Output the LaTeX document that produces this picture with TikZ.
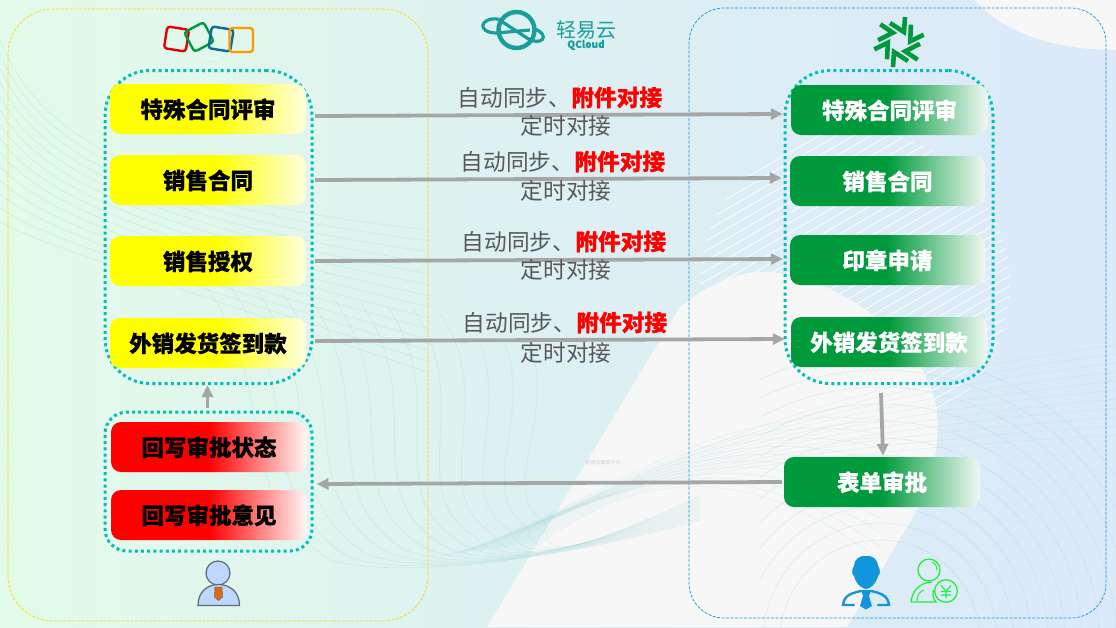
\documentclass[tikz,border=0pt]{standalone}
\usepackage{fontspec}
\setmainfont{Noto Sans CJK SC}[BoldFeatures={FakeBold=0.5}]
\usetikzlibrary{arrows.meta,calc}
\definecolor{bgL}{HTML}{E3FBE9}
\definecolor{bgM}{HTML}{DDF0F2}
\definecolor{bgR}{HTML}{DBE9FA}
\definecolor{blobc}{HTML}{F7F7F7}
\definecolor{wavec}{HTML}{9AD6D6}
\definecolor{teald}{HTML}{00BFB8}
\definecolor{arrc}{HTML}{A6A6A6}
\definecolor{gtext}{HTML}{595959}
\definecolor{greenb}{HTML}{009A3D}
\definecolor{greenE}{HTML}{F0F8F2}
\definecolor{qc}{HTML}{199E9C}
\definecolor{pblue}{HTML}{BDD7FF}
\definecolor{pedge}{HTML}{5A6B75}
\definecolor{ptie}{HTML}{E8650A}
\definecolor{iconb}{HTML}{1296DB}
\definecolor{icong}{HTML}{22F03A}
\pgfdeclarehorizontalshading{bgshade}{100bp}{color(0bp)=(bgL); color(25bp)=(bgL); color(50bp)=(bgM); color(75bp)=(bgR); color(100bp)=(bgR)}
\pgfdeclarehorizontalshading{yshade}{100bp}{color(0bp)=(yellow); color(52bp)=(yellow); color(75bp)=(yellow!12!white); color(100bp)=(yellow!12!white)}
\pgfdeclarehorizontalshading{rshade}{100bp}{color(0bp)=(red); color(50bp)=(red); color(75bp)=(red!3!white); color(100bp)=(red!3!white)}
\pgfdeclarehorizontalshading{gshade}{100bp}{color(0bp)=(greenb); color(50bp)=(greenb); color(75bp)=(greenE); color(100bp)=(greenE)}
\tikzset{
  boxbase/.style={rectangle,rounded corners=10pt,minimum height=50pt,inner sep=0pt,text height=20pt,text depth=2pt,font=\fontsize{22.5pt}{24pt}\selectfont\bfseries},
  ybox/.style={boxbase,shade,shading=yshade,text=black,minimum width=196pt},
  rbox/.style={boxbase,shade,shading=rshade,text=black,minimum width=196pt},
  gbox/.style={boxbase,shade,shading=gshade,text=white,minimum width=196pt},
  group/.style={rectangle,draw=teald,line width=3pt,dash pattern=on 3pt off 3.2pt,inner sep=0pt},
  panel/.style={rectangle,line width=.7pt,inner sep=0pt,dash pattern=on 3pt off 1.5pt},
  flow/.style={draw=arrc,line width=3.8pt,-{Triangle[length=12pt,width=11pt]}},
  syncl/.style={inner sep=0pt,text=gtext,font=\fontsize{22.7pt}{24pt}\selectfont},
  wave/.style={draw=wavec,line width=.5pt,opacity=.35},
  waveb/.style={draw=wavec,line width=.5pt,opacity=.25},
  hatchl/.style={draw=white,line width=1pt,opacity=.8},
}
\begin{document}
\begin{tikzpicture}[x=1pt,y=-1pt]
\useasboundingbox (0,0) rectangle (1116,627);
\begin{scope}
\clip (0,0) rectangle (1116,627);
% background
\shade[shading=bgshade] (0,0) rectangle (1116,627);
% hatch on the right
\begin{scope}
\clip (855,285) circle (155pt);
\foreach \i in {0,...,50}{
  \draw[hatchl] (690,{170+\i*10}) -- (1020,{-20+\i*10});
}
\end{scope}
% pale shapes
\fill[blobc] (487,627) -- (680,307) .. controls (710,282) and (740,272) .. (763,272)
  .. controls (830,272) and (930,340) .. (937,413) .. controls (940,450) and (930,490) .. (913,517) -- (847,627) -- cycle;
\fill[blobc] (975,0) .. controls (1000,30) and (1050,50) .. (1116,50) -- (1116,0) -- cycle;
% wave lines
\foreach \i in {0,...,13}{
  \draw[wave] (0,{40+\i*14}) .. controls (40,{140+\i*8}) and (150,{200+\i*6}) .. (430,{230+\i*11});
}
\foreach \i in {0,...,12}{
  \draw[wave] ({205+\i*26},{285+\i*3}) .. controls ({285+\i*24},400) and ({225+\i*22},490)
     .. ({330+\i*18},{560-\i*3}) .. controls ({400+\i*12},{580-\i*2}) and (560,560) .. (700,{520-\i*2});
}
\foreach \i in {0,...,10}{
  \draw[waveb] ({440+\i*8},{556-\i}) .. controls (570,{530-\i*4}) and ({700},{400+\i*6}) .. (1116,{345+\i*9});
}
\foreach \i in {0,...,10}{
  \draw[waveb] ({460+\i*8},{552-\i}) .. controls (600,{505}) and (710,{400+\i*3}) .. (880,{420+\i*14});
}
\begin{scope}
\clip (760,345) rectangle (1116,627);
\foreach \r in {100,117,...,300}{
  \draw[wave] (880,640) circle (\r pt);
}
\end{scope}
\end{scope}
% panels
\node[panel,draw=yellow!75!orange,rounded corners=45pt,minimum width=420pt,minimum height=612pt] (lpanel) at (218,315) {};
\node[panel,draw=iconb,rounded corners=35pt,minimum width=417pt,minimum height=610pt] (rpanel) at (897.5,313) {};
% faint watermark
\node[inner sep=0pt,text=gtext,opacity=.25,font=\fontsize{5pt}{6pt}\selectfont] (mark) at (603,463) {轻易云集成平台};
% groups
\node[group,rounded corners=45pt,minimum width=207pt,minimum height=313pt] (lgroup) at (208.5,227) {};
\node[group,rounded corners=22pt,minimum width=207pt,minimum height=139pt] (lback) at (208.5,481.5) {};
\node[group,rounded corners=45pt,minimum width=208pt,minimum height=313pt] (rgroup) at (889,227) {};
% left boxes
\node[ybox] (a1) at (208,109) {特殊合同评审};
\node[ybox] (a2) at (208,180) {销售合同};
\node[ybox] (a3) at (208,261) {销售授权};
\node[ybox] (a4) at (208,343) {外销发货签到款};
\node[rbox] (c1) at (209,447) {回写审批状态};
\node[rbox] (c2) at (209,515) {回写审批意见};
% right boxes
\node[gbox,minimum width=197pt] (b1) at (889.5,110) {特殊合同评审};
\node[gbox,minimum width=195pt] (b2) at (887.5,181) {销售合同};
\node[gbox,minimum width=195pt] (b3) at (887.5,260) {印章申请};
\node[gbox,minimum width=196pt] (b4) at (889,342) {外销发货签到款};
\node[gbox] (form) at (882,482) {表单审批};
% connectors
\draw[flow] ([shift={(9,7)}]a1.east) -- ([shift={(-8,4)}]b1.west);
\draw[flow] ([shift={(9,0)}]a2.east) -- ([shift={(-8,-3)}]b2.west);
\draw[flow] ([shift={(9,0)}]a3.east) -- ([shift={(-7,-1)}]b3.west);
\draw[flow] ([shift={(9,-2)}]a4.east) -- ([shift={(-6,-3)}]b4.west);
\draw[flow] ([shift={(-1,-3)}]lback.north) -- ([shift={(-1,0)}]lgroup.south);
\draw[flow] ([shift={(-8,8)}]rgroup.south) -- ([shift={(1,-1)}]form.north);
\draw[flow] ([shift={(-2,0)}]form.west) -- ([shift={(3,2.5)}]lback.east);
% labels
\node[syncl] (s1) at (560,97.5) {自动同步、{\bfseries\color{red}附件对接}};
\node[syncl] (t1) at (566,125.5) {定时对接};
\node[syncl] (s2) at (563,161.5) {自动同步、{\bfseries\color{red}附件对接}};
\node[syncl] (t2) at (566,190.5) {定时对接};
\node[syncl] (s3) at (564,241.5) {自动同步、{\bfseries\color{red}附件对接}};
\node[syncl] (t3) at (566,269.5) {定时对接};
\node[syncl] (s4) at (565,322.5) {自动同步、{\bfseries\color{red}附件对接}};
\node[syncl] (t4) at (566,352.5) {定时对接};
% Zoho logo
\draw[line width=2.4pt,draw=red!90!black,rounded corners=3pt,rotate around={-9:(176.5,39)}] (165.5,28) rectangle (187.5,50);
\draw[line width=2.4pt,draw=greenb,rounded corners=3pt,rotate around={28:(199,37)}] (188,26) rectangle (210,48);
\draw[line width=2.4pt,draw=iconb!70!black,rounded corners=3pt,rotate around={-9:(221,39)}] (210,28) rectangle (232,50);
\draw[line width=2.4pt,draw=orange!80!yellow,rounded corners=3pt] (229.5,28) rectangle (253,52);
\node[inner sep=0pt,text=white,font=\fontsize{5pt}{6pt}\selectfont] (zoho) at (209,59) {Z\,\,O\,\,H\,\,O};
% QCloud logo
\draw[qc,line width=4.4pt] (516.5,30) circle (18pt);
\draw[qc,line width=3.2pt] (498,19) .. controls (480,17) and (476,33) .. (497,33) -- (530,30);
\draw[qc,line width=3.2pt] (498,19) -- (527,38) .. controls (540,47) and (553,36) .. (533,28);
\node[inner sep=0pt,text=qc,font=\fontsize{20pt}{22pt}\selectfont] (qname) at (586,30) {轻易云};
\node[inner sep=0pt,text=qc,font=\fontsize{10pt}{11pt}\selectfont\bfseries] (qsub) at (586,45) {QCloud};
% star logo
\foreach \k in {0,60,...,300}{
  \draw[greenb,line width=4.6pt,line join=miter,shift={(899,42)},rotate=\k] (6,-25) -- (5,-10) -- (-9,-19);
}
% left person
\draw[pedge,fill=pblue,line width=1.2pt] (218,573) circle (12pt);
\draw[pedge,fill=pblue,line width=1.2pt] (198,605.5) .. controls (198,592) and (207,584.5) .. (218.5,584.5) .. controls (230,584.5) and (239.5,592) .. (239.5,605.5) -- cycle;
\fill[ptie,draw=pedge,line width=.5pt] (215,587) -- (222,587) -- (222.5,597) -- (218.5,600.5) -- (214.5,597) -- cycle;
% blue person
\fill[iconb] (866,556) .. controls (873,555) and (878,560) .. (878,566) .. controls (881,570) and (880,575) .. (878,576)
  .. controls (876,584) and (870,589) .. (866,589) .. controls (862,589) and (856,584) .. (854,576)
  .. controls (852,575) and (851,570) .. (854,566) .. controls (854,560) and (859,555) .. (866,556) -- cycle;
\draw[iconb,line width=2.4pt,line cap=round] (861,591) .. controls (852,593) and (844,595) .. (843,605) -- (854,605);
\draw[iconb,line width=2.4pt,line cap=round] (871,591) .. controls (880,593) and (888,595) .. (889,605) -- (878,605);
\fill[iconb] (861,590) -- (871,590) -- (869,596) -- (872,606) -- (866,609.5) -- (860,606) -- (863,596) -- cycle;
% green person
\draw[icong,line width=1.3pt] (929,570) circle (11pt);
\draw[icong,line width=1.3pt] (946,591) circle (11.3pt);
\draw[icong,line width=1.3pt] (911,602) .. controls (912,592) and (918,583) .. (932,582);
\draw[icong,line width=1.3pt] (911,602) -- (936,602) .. controls (934,600) and (932,596) .. (933.5,590);
\draw[icong,line width=1pt] (917,601) .. controls (917,595) and (920,591) .. (924,590);
\draw[icong,line width=1pt] (932,562) .. controls (936,564) and (937,567) .. (937,570);
\draw[icong,line width=1.2pt] (941,585.5) -- (946,591) -- (951,585.5) (946,591) -- (946,598) (941,591.5) -- (951,591.5) (941,595) -- (951,595);
\end{tikzpicture}
\end{document}
